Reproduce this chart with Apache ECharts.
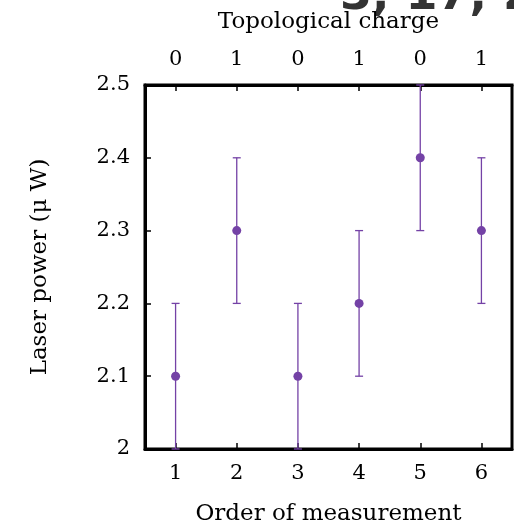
<!DOCTYPE html>
<html>
<head>
<meta charset="utf-8">
<script src="https://cdn.jsdelivr.net/npm/echarts@6/dist/echarts.min.js"></script>
<style>
  html, body { margin: 0; padding: 0; background: #fff; }
  #chart { width: 514px; height: 531px; }
</style>
</head>
<body>
<div id="chart"></div>
<script>
// Measurement order, laser power and its uncertainty
const order = [1, 2, 3, 4, 5, 6];
const power = [2.1, 2.3, 2.1, 2.2, 2.4, 2.3];
const powerErr = [0.1, 0.1, 0.1, 0.1, 0.1, 0.1];
// Topological charge used at each measurement (top axis labels)
const charge = [0, 1, 0, 1, 0, 1];
const yTicks = [2, 2.1, 2.2, 2.3, 2.4, 2.5];

const serif = '"DejaVu Serif", "Liberation Serif", serif';
const purple = '#7442a6';

const points = order.map((x, i) => [x, power[i]]);
const bars = order.map((x, i) => [x, power[i] - powerErr[i], power[i] + powerErr[i]]);

const chart = echarts.init(document.getElementById('chart'));

const baseX = {
  type: 'value', min: 0.5, max: 6.5, interval: 1,
  splitLine: { show: false },
  axisLine: { show: true, lineStyle: { color: '#000', width: 3 } },
  axisTick: { show: true, inside: true, length: 6, lineStyle: { color: '#000', width: 1.5 }, customValues: order },
  axisLabel: { color: '#000', fontFamily: serif, fontSize: 21, customValues: order },
  nameLocation: 'middle',
  nameTextStyle: { color: '#000', fontFamily: serif, fontSize: 23 }
};

chart.setOption({
  animation: false,
  grid: { left: 145, right: 2, top: 85, bottom: 80, show: true, borderColor: '#000', borderWidth: 3, backgroundColor: 'transparent' },
  xAxis: [
    Object.assign({}, baseX, { position: 'bottom', name: 'Order of measurement', nameGap: 54,
      axisLabel: Object.assign({}, baseX.axisLabel, { margin: 14, formatter: v => String(v) }) }),
    Object.assign({}, baseX, { position: 'top', name: 'Topological charge', nameGap: 51,
      axisLabel: Object.assign({}, baseX.axisLabel, { margin: 15, formatter: v => String(charge[order.indexOf(v)]) }) })
  ],
  yAxis: {
    type: 'value', min: 2, max: 2.5, interval: 0.1,
    splitLine: { show: false },
    axisLine: { show: true, lineStyle: { color: '#000', width: 3 } },
    axisTick: { show: true, inside: true, length: 6, lineStyle: { color: '#000', width: 1.5 } },
    axisLabel: { color: '#000', fontFamily: serif, fontSize: 21, margin: 15,
      customValues: yTicks, formatter: v => (Math.round(v * 10) / 10).toString() },
    name: 'Laser power (μ W)', nameLocation: 'middle', nameGap: 93,
    nameTextStyle: { color: '#000', fontFamily: serif, fontSize: 23 }
  },
  graphic: [{
    type: 'text', left: 340, top: -26, silent: true, z: -1,
    style: { text: '3, 17, 20', fill: '#333', font: 'bold 46px "DejaVu Sans", sans-serif' }
  }],
  series: [
    {
      type: 'custom',
      data: bars,
      renderItem: function (params, api) {
        const x = api.value(0);
        const lo = api.coord([x, api.value(1)]);
        const hi = api.coord([x, api.value(2)]);
        const cap = 4;
        const style = { stroke: purple, lineWidth: 1.3 };
        return {
          type: 'group',
          children: [
            { type: 'line', shape: { x1: lo[0], y1: lo[1], x2: hi[0], y2: hi[1] }, style },
            { type: 'line', shape: { x1: hi[0] - cap, y1: hi[1], x2: hi[0] + cap, y2: hi[1] }, style },
            { type: 'line', shape: { x1: lo[0] - cap, y1: lo[1], x2: lo[0] + cap, y2: lo[1] }, style }
          ]
        };
      },
      z: 2
    },
    {
      type: 'scatter',
      data: points,
      symbol: 'circle',
      symbolSize: 9,
      itemStyle: { color: purple, opacity: 1 },
      z: 3
    }
  ]
});
</script>
</body>
</html>
